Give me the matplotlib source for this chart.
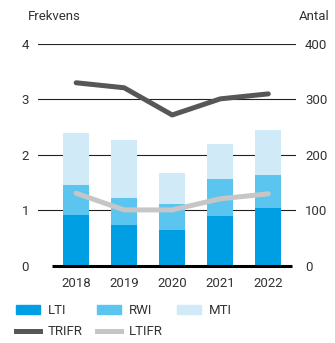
import matplotlib.pyplot as plt
from matplotlib.patches import Patch
from matplotlib.lines import Line2D

years = ['2018', '2019', '2020', '2021', '2022']
lti = [92, 74, 65, 90, 105]
rwi = [54, 49, 47, 67, 59]
mti = [94, 104, 56, 63, 81]
trifr = [3.30, 3.21, 2.72, 3.01, 3.10]
ltifr = [1.31, 1.01, 1.01, 1.21, 1.30]

c_lti = '#009fe3'
c_rwi = '#5bc5f0'
c_mti = '#d1eaf8'
c_trifr = '#575757'
c_ltifr = '#c6c6c6'
txt = '#333333'

plt.rcParams['font.family'] = ['Roboto', 'DejaVu Sans']
plt.rcParams['font.size'] = 9.5

dpi = 100
fig = plt.figure(dpi=dpi, figsize=(335 / dpi, 343 / dpi))
ax = fig.add_axes([0.114, 0.2245, 0.770, 0.6475])
ax2 = ax.twinx()

x = list(range(len(years)))
w = 0.54
bottom2 = [a + b for a, b in zip(lti, rwi)]
ax2.bar(x, lti, w, color=c_lti, zorder=2)
ax2.bar(x, rwi, w, bottom=lti, color=c_rwi, zorder=2)
ax2.bar(x, mti, w, bottom=bottom2, color=c_mti, zorder=2)
for v in [100, 200, 300, 400]:
    ax2.axhline(v, color='#222222', lw=0.8, zorder=1)
ax2.plot([-0.5, 4.5], [0, 0], color='black', lw=2.2, zorder=3, solid_capstyle='butt', clip_on=False)

ax.plot(x, trifr, color=c_trifr, lw=3.6, solid_capstyle='round')
ax.plot(x, ltifr, color=c_ltifr, lw=3.6, solid_capstyle='round')

ax.set_zorder(ax2.get_zorder() + 1)
ax.patch.set_visible(False)

ax.set_xlim(-0.79, 4.58)
ax.set_ylim(0, 4)
ax2.set_ylim(0, 400)
ax.set_yticks([0, 1, 2, 3, 4])
ax2.set_yticks([0, 100, 200, 300, 400])
ax.set_xticks(x)
ax.set_xticklabels(years)

for a in (ax, ax2):
    for s in a.spines.values():
        s.set_visible(False)
    a.tick_params(length=0, colors=txt, labelsize=9.5)
ax.tick_params(axis='y', pad=6.5)
ax2.tick_params(axis='y', pad=6.5)
ax.tick_params(axis='x', pad=8)

fig.text(0.083, 0.953, 'Frekvens', color=txt, fontsize=9.5, va='center', ha='left')
fig.text(0.985, 0.953, 'Antal', color=txt, fontsize=9.5, va='center', ha='right')

handles = [
    Patch(color=c_lti, label='LTI'),
    Line2D([], [], color=c_trifr, lw=3.6, label='TRIFR'),
    Patch(color=c_rwi, label='RWI'),
    Line2D([], [], color=c_ltifr, lw=3.6, label='LTIFR'),
    Patch(color=c_mti, label='MTI'),
]
leg = fig.legend(handles=handles, ncol=3, loc='upper left', bbox_to_anchor=(0.048, 0.113),
                 frameon=False, handlelength=1.8, handleheight=0.6, handletextpad=0.6,
                 columnspacing=1.1, labelspacing=0.6, borderaxespad=0, borderpad=0,
                 fontsize=9.5, labelcolor=txt)

fig.savefig('out.png', dpi=dpi)
